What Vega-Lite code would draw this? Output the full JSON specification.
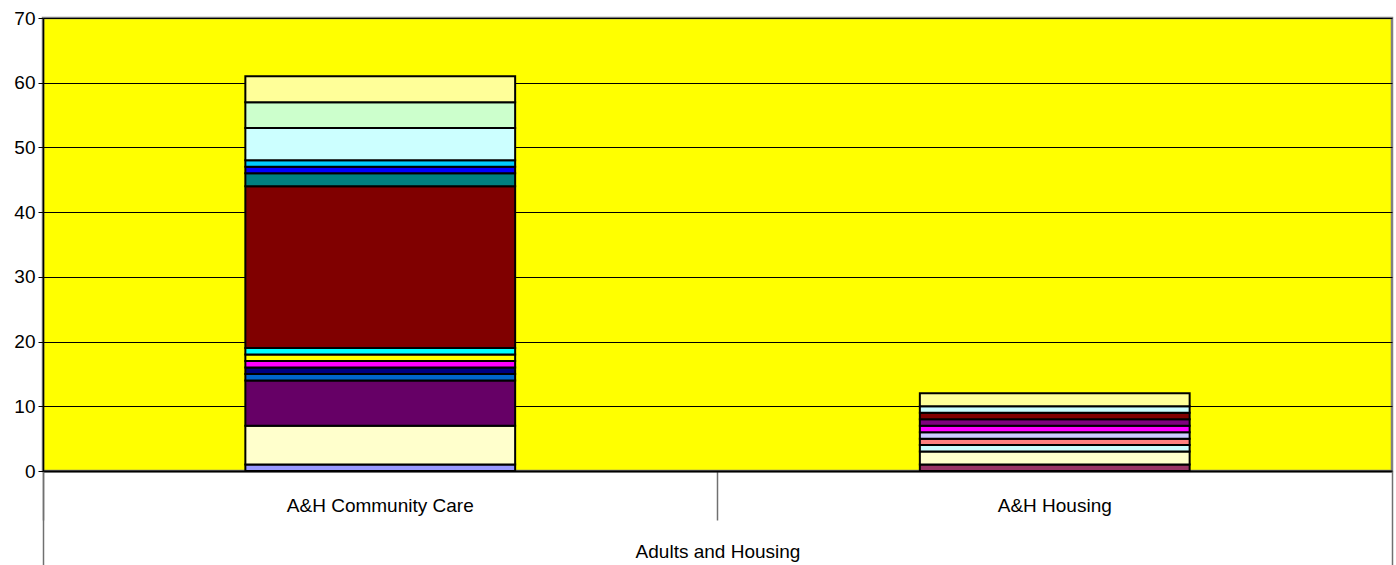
{
  "$schema": "https://vega.github.io/schema/vega-lite/v6.json",
  "autosize": "none",
  "width": 1349,
  "height": 453,
  "padding": {"left": 43, "top": 18, "right": 4, "bottom": 94},
  "background": "#FFFFFF",
  "config": {
    "view": {"fill": "#FFFF00", "stroke": "#808080", "strokeWidth": 2.5},
    "font": "Liberation Sans",
    "axis": {"labelFont": "Liberation Sans", "titleFont": "Liberation Sans", "labelColor": "#000000", "titleColor": "#000000"}
  },
  "datasets": {
    "segments": [
      {"cat": "A&H Community Care", "seg": "C01", "order": 1, "value": 1},
      {"cat": "A&H Community Care", "seg": "C02", "order": 2, "value": 6},
      {"cat": "A&H Community Care", "seg": "C03", "order": 3, "value": 7},
      {"cat": "A&H Community Care", "seg": "C04", "order": 4, "value": 1},
      {"cat": "A&H Community Care", "seg": "C05", "order": 5, "value": 1},
      {"cat": "A&H Community Care", "seg": "C06", "order": 6, "value": 1},
      {"cat": "A&H Community Care", "seg": "C07", "order": 7, "value": 1},
      {"cat": "A&H Community Care", "seg": "C08", "order": 8, "value": 1},
      {"cat": "A&H Community Care", "seg": "C09", "order": 9, "value": 25},
      {"cat": "A&H Community Care", "seg": "C10", "order": 10, "value": 2},
      {"cat": "A&H Community Care", "seg": "C11", "order": 11, "value": 1},
      {"cat": "A&H Community Care", "seg": "C12", "order": 12, "value": 1},
      {"cat": "A&H Community Care", "seg": "C13", "order": 13, "value": 5},
      {"cat": "A&H Community Care", "seg": "C14", "order": 14, "value": 4},
      {"cat": "A&H Community Care", "seg": "C15", "order": 15, "value": 4},
      {"cat": "A&H Housing", "seg": "H01", "order": 1, "value": 1},
      {"cat": "A&H Housing", "seg": "H02", "order": 2, "value": 2},
      {"cat": "A&H Housing", "seg": "H03", "order": 3, "value": 1},
      {"cat": "A&H Housing", "seg": "H04", "order": 4, "value": 1},
      {"cat": "A&H Housing", "seg": "H05", "order": 5, "value": 1},
      {"cat": "A&H Housing", "seg": "H06", "order": 6, "value": 1},
      {"cat": "A&H Housing", "seg": "H07", "order": 7, "value": 1},
      {"cat": "A&H Housing", "seg": "H08", "order": 8, "value": 1},
      {"cat": "A&H Housing", "seg": "H09", "order": 9, "value": 1},
      {"cat": "A&H Housing", "seg": "H10", "order": 10, "value": 2}
    ],
    "group": [
      {"group": "Adults and Housing", "pos": 0.5}
    ]
  },
  "layer": [
    {
      "data": {"name": "segments"},
      "mark": {"type": "bar", "width": {"band": 0.4}, "stroke": "#000000", "strokeWidth": 2},
      "encoding": {
        "x": {
          "field": "cat", "type": "nominal", "sort": null,
          "scale": {"paddingInner": 0, "paddingOuter": 0},
          "axis": {
            "title": null, "labelAngle": 0, "labelFontSize": 19, "labelPadding": -24, "labelLimit": 0,
            "bandPosition": 0, "tickSize": 49, "tickColor": "#707070", "tickWidth": 1.5,
            "domainColor": "#000000", "domainWidth": 2, "grid": false
          }
        },
        "y": {
          "field": "value", "type": "quantitative", "stack": "zero",
          "scale": {"domain": [0, 70], "nice": false},
          "axis": {
            "title": null, "values": [0, 10, 20, 30, 40, 50, 60, 70],
            "labelFontSize": 19, "labelPadding": 3, "tickSize": 5, "tickColor": "#000000",
            "domainColor": "#000000", "domainWidth": 1.5,
            "grid": true, "gridColor": "#000000", "gridWidth": 1, "gridOpacity": 1
          }
        },
        "color": {
          "field": "seg", "type": "nominal", "legend": null,
          "scale": {
            "domain": ["C01","C02","C03","C04","C05","C06","C07","C08","C09","C10","C11","C12","C13","C14","C15","H01","H02","H03","H04","H05","H06","H07","H08","H09","H10"],
            "range": ["#9999FF","#FFFFCC","#660066","#0066CC","#000080","#FF00FF","#FFFF00","#00FFFF","#800000","#008080","#0000FF","#00CCFF","#CCFFFF","#CCFFCC","#FFFF99","#993366","#FFFFCC","#CCFFFF","#FF8080","#CCCCFF","#FF00FF","#800080","#800000","#CCFFFF","#FFFF99"]
          }
        },
        "order": {"field": "order", "type": "quantitative"}
      }
    },
    {
      "data": {"name": "group"},
      "mark": {"type": "point", "opacity": 0},
      "encoding": {
        "x": {
          "field": "pos", "type": "quantitative",
          "scale": {"domain": [0, 1], "nice": false},
          "axis": {
            "orient": "bottom", "values": [0, 1], "labels": false, "domain": false, "grid": false,
            "tickSize": 94, "tickColor": "#707070", "tickWidth": 1.5,
            "title": "Adults and Housing", "titleFontSize": 19, "titleFontWeight": "normal", "titlePadding": -23
          }
        },
        "y": {"datum": 0}
      }
    }
  ],
  "resolve": {"scale": {"x": "independent"}}
}
